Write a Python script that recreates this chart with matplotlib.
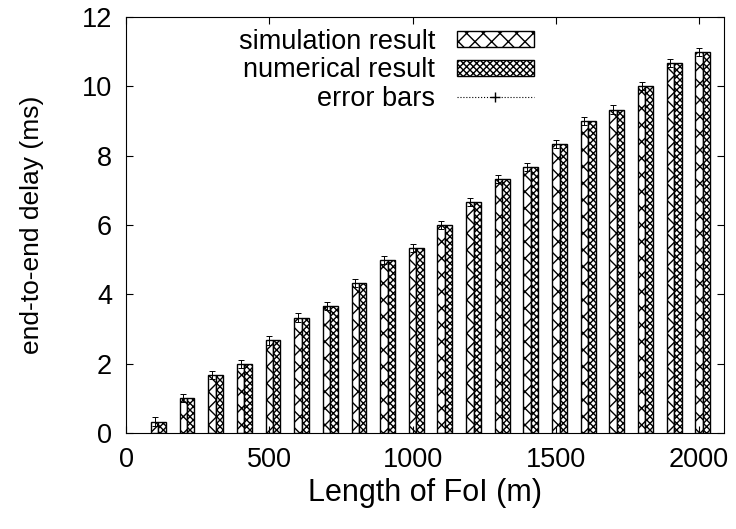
import numpy as np
import matplotlib
matplotlib.use("Agg")
import matplotlib.pyplot as plt
from matplotlib.patches import Patch
from matplotlib.lines import Line2D

plt.rcParams['font.family'] = ['Liberation Sans', 'DejaVu Sans']
plt.rcParams['hatch.linewidth'] = 1.0

# data
lengths = [100, 200, 300, 400, 500, 600, 700, 800, 900, 1000,
           1100, 1200, 1300, 1400, 1500, 1600, 1700, 1800, 1900, 2000]
simulation = [0.33, 1.0, 1.67, 2.0, 2.67, 3.33, 3.67, 4.33, 5.0, 5.33,
              6.0, 6.67, 7.33, 7.67, 8.33, 9.0, 9.33, 10.0, 10.67, 11.0]
numerical = [0.33, 1.0, 1.67, 2.0, 2.67, 3.33, 3.67, 4.33, 5.0, 5.33,
             6.0, 6.67, 7.33, 7.67, 8.33, 9.0, 9.33, 10.0, 10.67, 11.0]
errors = [0.12] * 20

FS = 19.5

fig = plt.figure(figsize=(7.36, 5.29), dpi=100)
ax = fig.add_axes([126 / 736, 1 - 433 / 529, (724 - 126) / 736, (433 - 17) / 529])

x = np.array(lengths)
w = 26
ax.bar(x, simulation, width=w, facecolor='white', edgecolor='black',
       hatch='xx', linewidth=1.0)
ax.bar(x + w, numerical, width=w, facecolor='white', edgecolor='black',
       hatch='xxxxx', linewidth=1.0)
ax.errorbar(x, simulation, yerr=errors, fmt='none', ecolor='black',
            elinewidth=0.7, capsize=2.5, capthick=0.7)

ax.set_xlim(0, 2087)
ax.set_ylim(0, 12)
ax.set_xticks([0, 500, 1000, 1500, 2000])
ax.set_yticks(range(0, 13, 2))
ax.tick_params(direction='in', length=5, width=0.8, labelsize=FS,
               top=True, right=True, pad=10)
ax.set_xlabel("Length of FoI (m)", fontsize=22, labelpad=4)
ax.set_ylabel("end-to-end delay (ms)", fontsize=19, labelpad=27)

handles = [
    Patch(facecolor='white', edgecolor='black', hatch='xx'),
    Patch(facecolor='white', edgecolor='black', hatch='xxxxx'),
    Line2D([0], [0], color='black', ls=':', lw=0.8, marker='+', markersize=7),
]
ax.legend(handles, ["simulation result", "numerical result", "error bars"],
          loc='upper right', bbox_to_anchor=(0.682, 0.972), frameon=False,
          markerfirst=False, fontsize=FS, handlelength=2.85, handleheight=0.52,
          labelspacing=0.1, handletextpad=0.8, borderpad=0, borderaxespad=0)

fig.savefig("out.png", dpi=100)
